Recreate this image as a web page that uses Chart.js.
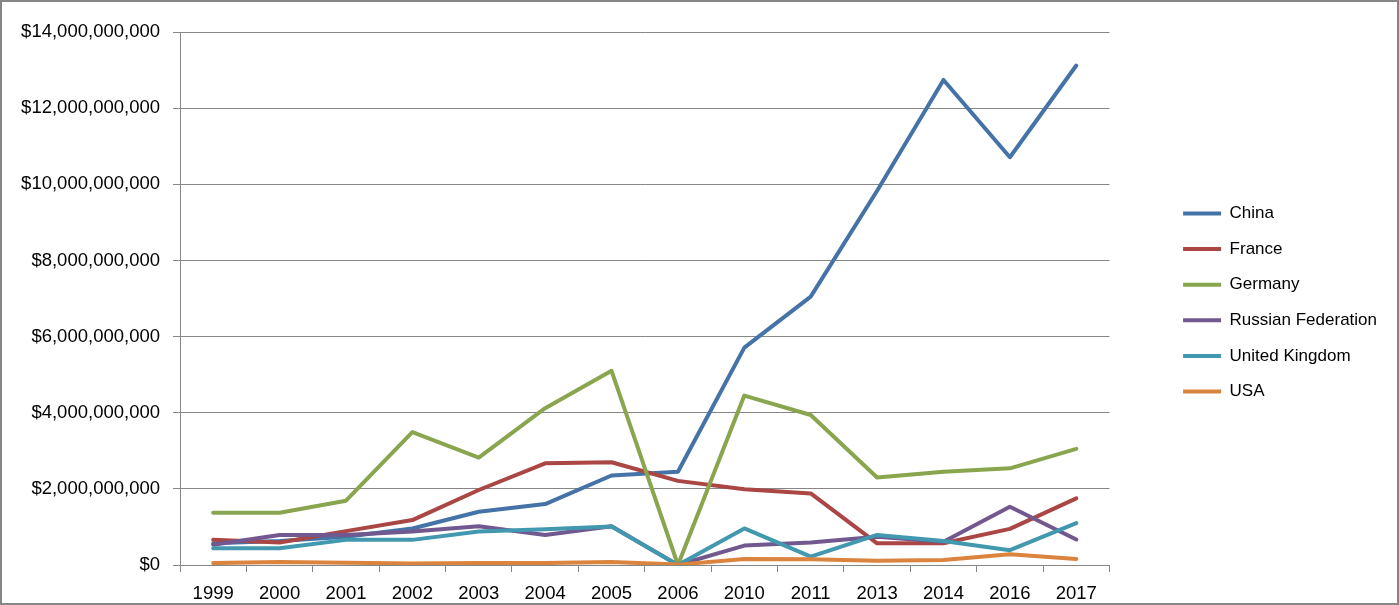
<!DOCTYPE html>
<html>
<head>
<meta charset="utf-8">
<script src="https://cdn.jsdelivr.net/npm/chart.js@4/dist/chart.umd.min.js"></script>
<style>
    html, body { margin: 0; padding: 0; background: #fff; }
    #frame {
        position: absolute; left: 0; top: 0;
        width: 1395px; height: 601px;
        border: 2px solid #868686;
    }
</style>
</head>
<body>
<div id="frame"><canvas id="tradeChart" width="1395" height="601"></canvas></div>
<script>
// Chart data
const years = ['1999', '2000', '2001', '2002', '2003', '2004', '2005', '2006', '2010', '2011', '2013', '2014', '2016', '2017'];

const china   = [0.57e9, 0.63e9, 0.74e9, 0.96e9, 1.40e9, 1.60e9, 2.35e9, 2.45e9, 5.71e9, 7.05e9, 9.83e9, 12.74e9, 10.71e9, 13.12e9];
const france  = [0.66e9, 0.59e9, 0.89e9, 1.18e9, 1.97e9, 2.67e9, 2.70e9, 2.21e9, 1.99e9, 1.88e9, 0.57e9, 0.57e9, 0.95e9, 1.75e9];
const germany = [1.37e9, 1.37e9, 1.69e9, 3.49e9, 2.82e9, 4.12e9, 5.10e9, 0, 4.45e9, 3.94e9, 2.30e9, 2.45e9, 2.54e9, 3.05e9];
const russia  = [0.53e9, 0.79e9, 0.79e9, 0.88e9, 1.02e9, 0.79e9, 1.02e9, 0, 0.51e9, 0.59e9, 0.74e9, 0.61e9, 1.53e9, 0.67e9];
const uk      = [0.44e9, 0.44e9, 0.66e9, 0.66e9, 0.88e9, 0.94e9, 1.01e9, 0, 0.96e9, 0.22e9, 0.79e9, 0.63e9, 0.39e9, 1.10e9];
const usa     = [0.05e9, 0.08e9, 0.06e9, 0.04e9, 0.05e9, 0.05e9, 0.08e9, 0.01e9, 0.16e9, 0.15e9, 0.11e9, 0.13e9, 0.28e9, 0.16e9];

const seriesNames  = ['China', 'France', 'Germany', 'Russian Federation', 'United Kingdom', 'USA'];
const seriesValues = [china, france, germany, russia, uk, usa];
const seriesColors = ['#4572A7', '#AA4643', '#89A54E', '#71588F', '#4198AF', '#DB843D'];

const gridColor = '#868686';

Chart.defaults.font.family = "'Liberation Sans', Arial, sans-serif";
Chart.defaults.font.size = 18.5;
Chart.defaults.color = '#000';

// later series sit on top, like in the spreadsheet
const datasets = seriesNames.map((name, i) => ({
    label: name,
    data: seriesValues[i],
    borderColor: seriesColors[i],
    backgroundColor: seriesColors[i],
    borderWidth: 4,
    pointRadius: 0,
    pointHoverRadius: 0,
    tension: 0,
    borderJoinStyle: 'round',
    borderCapStyle: 'round',
    order: seriesNames.length - 1 - i
}));

const formatMoney = v => '$' + Math.round(v).toLocaleString('en-US');

new Chart(document.getElementById('tradeChart').getContext('2d'), {
    type: 'line',
    data: {
        labels: years,
        datasets: datasets
    },
    options: {
        responsive: false,
        animation: false,
        layout: {
            padding: { left: 18, right: 10, top: 0, bottom: 0 }
        },
        plugins: {
            tooltip: { enabled: false },
            legend: {
                position: 'right',
                labels: {
                    font: { size: 17 },
                    boxWidth: 38,
                    boxHeight: 4,
                    padding: 18.6,
                    sort: (a, b) => a.datasetIndex - b.datasetIndex,
                    generateLabels: chart => {
                        const items = Chart.defaults.plugins.legend.labels.generateLabels(chart);
                        items.forEach(item => {
                            item.lineWidth = 0;
                            item.fillStyle = item.strokeStyle;
                        });
                        return items;
                    }
                }
            }
        },
        scales: {
            x: {
                offset: true,
                grid: {
                    offset: true,
                    drawOnChartArea: false,
                    color: gridColor,
                    tickLength: 7
                },
                border: { color: gridColor, width: 1 },
                ticks: { padding: 11, maxRotation: 0, autoSkip: false },
                afterFit: s => { s.height = 38; }
            },
            y: {
                min: 0,
                max: 14e9,
                grid: { color: gridColor, tickLength: 7 },
                border: { color: gridColor, width: 1 },
                ticks: {
                    stepSize: 2e9,
                    padding: 13,
                    callback: v => formatMoney(v)
                },
                afterFit: s => { s.width = 160; }
            },
            // spacer scales: room above the plot and between plot and legend
            spacerTop: {
                type: 'linear',
                position: 'top',
                display: true,
                grid: { display: false },
                border: { display: false },
                ticks: { display: false },
                afterFit: s => { s.height = 30; }
            },
            spacerRight: {
                type: 'linear',
                position: 'right',
                display: true,
                grid: { display: false },
                border: { display: false },
                ticks: { display: false },
                afterFit: s => { s.width = 55; }
            }
        }
    }
});
</script>
</body>
</html>
